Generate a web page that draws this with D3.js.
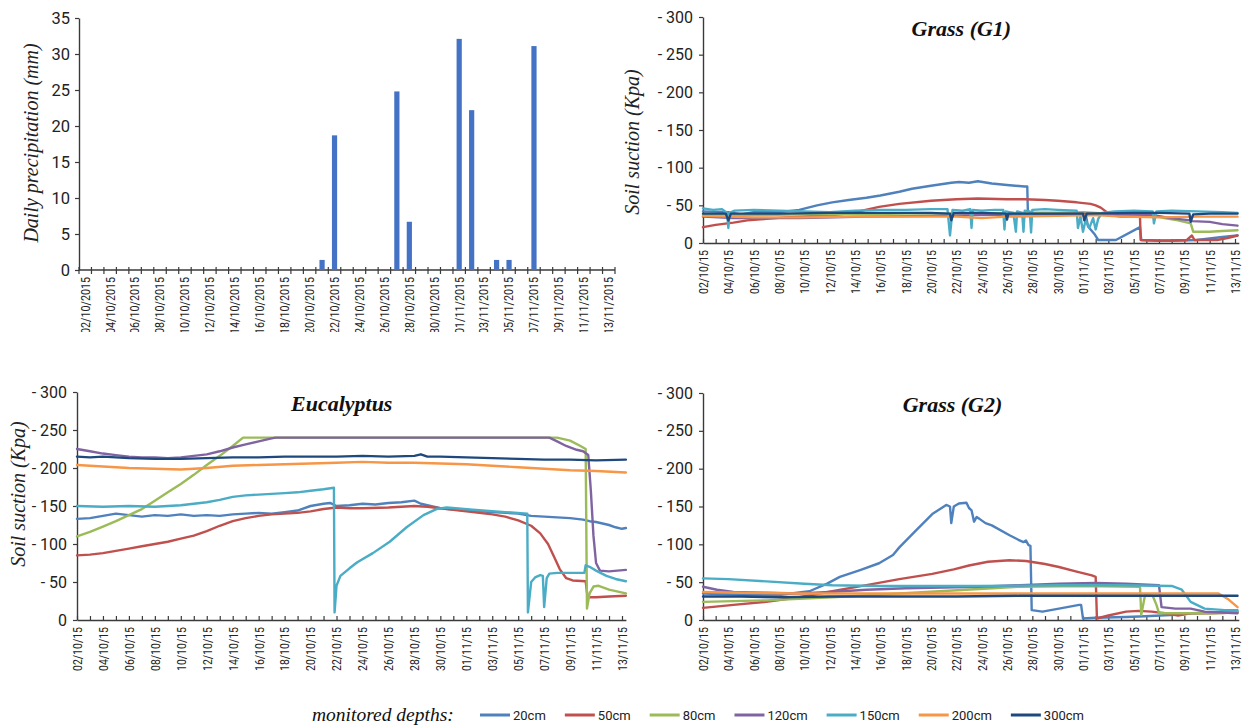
<!DOCTYPE html>
<html><head><meta charset="utf-8">
<script src="https://cdn.jsdelivr.net/npm/d3@7"></script>
<style>
body{margin:0;background:#fff;}
svg{display:block;}
</style></head><body>
<svg id="c" width="1243" height="727"></svg>
<script>
// ---------------- DATA ----------------
const precipDays = ["02/10/2015","03/10/2015","04/10/2015","05/10/2015","06/10/2015","07/10/2015","08/10/2015","09/10/2015","10/10/2015","11/10/2015","12/10/2015","13/10/2015","14/10/2015","15/10/2015","16/10/2015","17/10/2015","18/10/2015","19/10/2015","20/10/2015","21/10/2015","22/10/2015","23/10/2015","24/10/2015","25/10/2015","26/10/2015","27/10/2015","28/10/2015","29/10/2015","30/10/2015","31/10/2015","01/11/2015","02/11/2015","03/11/2015","04/11/2015","05/11/2015","06/11/2015","07/11/2015","08/11/2015","09/11/2015","10/11/2015","11/11/2015","12/11/2015","13/11/2015"];
const precipValues = [0,0,0,0,0,0,0,0,0,0,0,0,0,0,0,0,0,0,0,1.4,18.7,0,0,0,0,24.8,6.7,0,0,0,32.1,22.2,0,1.4,1.4,0,31.1,0,0,0,0,0,0];
const precipTicks = [0,5,10,15,20,25,30,35];

const lineTickLabels = ["02/10/15","04/10/15","06/10/15","08/10/15","10/10/15","12/10/15","14/10/15","16/10/15","18/10/15","20/10/15","22/10/15","24/10/15","26/10/15","28/10/15","30/10/15","01/11/15","03/11/15","05/11/15","07/11/15","09/11/15","11/11/15","13/11/15"];
const suctionTicks = [0,50,100,150,200,250,300];

const depths = ["20cm","50cm","80cm","120cm","150cm","200cm","300cm"];
const depthColors = ["#4F81BD","#C0504D","#9BBB59","#8064A2","#4BACC6","#F79646","#1F497D"];

// Eucalyptus  [day since 02/10, suction kPa]
const euc20 = [[0,133],[1,134],[2,137],[3,140],[4,138],[5,136],[6,138],[7,137],[8,139],[9,137],[10,138],[11,137],[12,139],[13,140],[14,141],[15,140],[16,142],[17,144],[18,150],[19,153],[19.5,154],[20,150],[21,151],[22,153],[23,152],[24,154],[25,155],[26,157],[26.5,153],[27,151],[28,147],[30,144],[32,142],[34,140],[35,137],[36,136],[37,135],[38,134],[39,132],[39.5,130],[40,129],[41,125],[41.5,122],[42,120],[42.3,121]];
const euc50 = [[0,85],[1,86],[2,88],[3,91],[4,94],[5,97],[6,100],[7,103],[8,107],[9,111],[10,117],[11,124],[12,130],[13,134],[14,137],[15,139],[16,140],[17,141],[18,143],[19,146],[20,148],[21,147],[22,147],[24,148],[26,150],[27,149],[28,147],[30,143],[32,139],[33,136],[34,131],[35,124],[35.7,114],[36.3,100],[36.8,82],[37.2,67],[37.7,55],[38.2,52],[39.2,51],[39.35,30],[40,30],[41,31],[42.3,32]];
const euc80 = [[0,110],[1,116],[2,123],[3,130],[4,138],[5,146],[6,157],[7,168],[8,179],[9,191],[10,204],[11,216],[12,229],[12.8,240],[37,240],[38,236],[38.8,229],[39.2,225],[39.3,15],[39.5,35],[39.8,44],[40.2,45],[41,40],[42.3,35]];
const euc120 = [[0,225],[1,222],[2,219],[3,217],[4,215],[5,214],[6,214],[7,213],[8,214],[9,216],[10,218],[11,222],[12,227],[13,231],[14,235],[15,239],[15.3,240],[36.4,240],[37,235],[37.7,229],[38.5,224],[39,222],[39.4,217],[39.6,170],[39.8,111],[40,75],[40.3,65],[41,64],[42.3,66]];
const euc150 = [[0,150],[2,149],[4,150],[6,149],[7,150],[8,151],[9,153],[10,155],[11,158],[12,162],[13,164],[14,165],[15,166],[16,167],[17,168],[18,170],[19,172],[19.8,174],[19.85,10],[20,45],[20.3,58],[21,68],[21.6,76],[22.8,88],[24.1,103],[25.4,122],[26.7,138],[27.7,146],[28.5,148],[30.5,145],[33,142],[34.7,140],[34.75,10],[35,50],[35.3,56],[35.7,59],[35.9,58],[36,17],[36.2,55],[36.4,61],[37,62],[39.1,62],[39.2,72],[39.5,70],[40,65],[40.8,58],[41.5,54],[42.3,51]];
const euc200 = [[0,204],[2,202],[4,200],[6,199],[8,198],[10,200],[12,203],[14,204],[16,205],[18,206],[20,207],[22,208],[24,207],[26,207],[28,206],[30,205],[32,203],[34,201],[36,199],[38,197],[40,196],[42.3,194]];
const euc300 = [[0,215],[1,214],[2,215],[4,213],[6,212],[8,212],[10,213],[12,214],[14,214],[16,215],[18,215],[20,215],[22,216],[24,215],[26,216],[26.5,218],[27,215],[28,215],[30,214],[32,213],[34,212],[36,211],[38,211],[40,210],[42.3,211]];

// Grass G1
const g1_20 = [[0,42],[2,41],[3,38],[4,41],[6,41],[7.6,44],[9,50],[10.2,54],[11.5,57],[12.9,60],[14,63],[15.5,68],[16.5,72],[18,76],[19.6,80],[20.2,81],[21,80],[21.7,82],[22.8,79],[24,77],[25.4,75],[25.6,75],[25.65,40],[27,40],[29,40],[30.2,39],[30.4,22],[30.9,12],[31.2,4],[32.6,4],[34.5,21],[34.6,4],[37,3],[39,4],[40,6],[41,8],[42.2,10]];
const g1_50 = [[0,21],[1,24],[2.4,27],[3.5,30],[5,32],[6.5,34],[7.6,35],[10.2,37],[11.5,39],[12.3,42],[13.1,45],[13.9,48],[15.5,52],[18,56],[20,58],[21.7,59],[24,58],[25.4,58],[27,57],[28,56],[29.5,54],[30.6,52],[31,50],[31.4,47],[31.8,42],[32.2,37],[33,35],[34.5,35],[34.55,4],[36,3],[38.2,4],[38.6,10],[38.8,4],[40.6,4],[41.5,7],[42.2,10]];
const g1_80 = [[0,38],[4,37],[8,38],[12,38],[16,39],[20,39],[24,40],[28,40],[30,41],[32,39],[34,38],[35.5,37],[36.4,33],[37.5,30],[38.5,26],[38.7,15],[40,15],[41,16],[42.2,17]];
const g1_120 = [[0,35],[2.4,33],[7.6,33],[12.9,35],[18,36],[21.7,37],[26,38],[30,39],[33,38],[35.6,37],[36.9,33],[38.5,30],[38.6,29],[40,28],[41,25],[42.2,23]];
const g1_150 = [[0,46],[0.8,44],[1.5,45],[1.9,40],[2,20],[2.1,40],[2.5,43],[4,44],[6,43],[8,42],[10,41],[12,43],[14,44],[16,44],[18,45],[19.3,45],[19.5,10],[19.7,44],[20.5,43],[21.1,45],[21.2,20],[21.3,44],[22,43],[23,44],[23.7,44],[23.8,18],[23.9,42],[24.5,40],[24.7,15],[24.8,42],[25.2,40],[25.3,15],[25.4,43],[25.8,42],[25.9,14],[26,44],[27,45],[28,44],[29.5,43],[29.6,20],[29.8,35],[30,15],[30.2,30],[30.5,20],[30.8,33],[31,18],[31.2,32],[31.5,40],[32.5,42],[34,43],[35.5,42],[35.6,26],[35.8,42],[37,43],[39,42],[41,41],[42.2,40]];
const g1_200 = [[0,36],[4,34],[8,34],[12,35],[16,35],[20,35],[22,33],[24,35],[28,36],[31,37],[33,35],[36,34],[39,35],[42.2,35]];
const g1_300 = [[0,39],[1.8,39],[2,30],[2.2,39],[6,39],[10,40],[14,40],[18,40],[19.5,39],[19.6,30],[19.8,40],[22,40],[23.9,39],[24,31],[24.1,39],[26,39],[28,39],[30,39],[30.1,30],[30.3,39],[34,40],[36,40],[38.4,39],[38.5,28],[38.7,38],[40,39],[42.2,39]];

// Grass G2
const g2_20 = [[0,35],[2,34],[4,33],[6,33],[8.4,38],[9.8,48],[10.8,57],[12.4,66],[13.9,75],[15,86],[15.5,96],[16.8,118],[18.1,140],[19.2,152],[19.5,150],[19.6,128],[19.8,150],[20.2,154],[20.8,155],[21,148],[21.2,145],[21.4,130],[21.6,136],[21.8,134],[22.3,128],[22.8,125],[24.2,112],[24.9,106],[25.3,103],[25.5,105],[25.7,99],[25.85,98],[25.95,13],[26.8,11],[28.1,15],[29.7,20],[29.85,20],[30,2],[31,3],[33.4,4],[34.9,5],[37.3,7],[38.6,9],[42.2,11]];
const g2_50 = [[0,16],[2.4,20],[5,24],[7.6,30],[10.2,38],[12.9,46],[15.5,54],[18.1,61],[19.8,67],[21,72],[22.5,77],[24.2,79],[25.5,78],[27,74],[28.1,70],[29.5,64],[30.7,59],[31,57],[31.1,2],[32,6],[33.4,11],[34.4,12],[35.4,11],[36.5,9],[37.5,6],[38.6,9],[40,9],[42.2,10]];
const g2_80 = [[0,24],[5,26],[10.2,30],[15.5,35],[21.8,41],[25,44],[30,45],[34.5,44],[34.6,7],[34.9,33],[35.5,32],[35.8,20],[36,9],[38,9],[40,9],[42.2,10]];
const g2_120 = [[0,44],[1.1,40],[2.4,37],[5,36],[7.6,35],[10,37],[12.9,40],[16,42],[21.8,44],[25,46],[28.1,48],[31,49],[33.4,48],[36,46],[36.2,17],[37.3,15],[38.5,15],[39.6,11],[42.2,9]];
const g2_150 = [[0,55],[2,54],[5,51],[8,48],[10.2,46],[14,45],[21.8,45],[28,46],[33,46],[37,45],[37.8,40],[38.5,24],[39.6,15],[41.2,13],[42.2,13]];
const g2_200 = [[0,37],[3,36],[7.6,35],[15,35],[25,35],[35,35],[40.7,35],[41.5,27],[42.2,17]];
const g2_300 = [[0,31],[3,31],[6,30],[10,31],[15,31],[20,31],[25,32],[30,32],[35,32],[40,32],[42.2,32]];

// ---------------- DRAWING ----------------
const svg = d3.select("#c");
const AX = "#3a3a3a";
const TICKFONT = "'Liberation Sans Narrow','Roboto','Liberation Sans',sans-serif";
const SERIF = "'Liberation Serif','DejaVu Serif',serif";

function styleAxis(g){
  g.selectAll("path.domain").attr("stroke",AX).attr("stroke-width",1.4);
  g.selectAll(".tick line").attr("stroke",AX).attr("stroke-width",1.2);
  g.selectAll(".tick text").attr("fill","#222").style("font-family",TICKFONT);
}

// Precipitation panel
(function(){
  const L=79,R=615,T=18,B=270;
  const x = d3.scaleBand().domain(precipDays).range([L,R]);
  const y = d3.scaleLinear().domain([0,35]).range([B,T]);
  const bw = x.bandwidth();
  svg.append("clipPath").attr("id","pclip").append("rect").attr("x",0).attr("y",0).attr("width",640).attr("height",332);
  const g = svg.append("g");
  const ya = g.append("g").attr("transform",`translate(${L},0)`)
    .call(d3.axisLeft(y).tickValues(precipTicks).tickSizeInner(4).tickSizeOuter(0).tickPadding(5));
  styleAxis(ya);
  ya.selectAll(".tick text").style("font-size","16.5px");
  g.append("line").attr("x1",L).attr("x2",R).attr("y1",B).attr("y2",B).attr("stroke",AX).attr("stroke-width",1.4);
  const bounds = precipDays.map(d=>x(d)).concat([x(precipDays[precipDays.length-1])+bw]);
  g.selectAll("line.bt").data(bounds).enter().append("line")
    .attr("x1",d=>d).attr("x2",d=>d).attr("y1",B-3).attr("y2",B+4).attr("stroke",AX).attr("stroke-width",1.2);
  const lg = g.append("g").attr("clip-path","url(#pclip)");
  lg.selectAll("text").data(precipDays.filter((d,i)=>i%2===0)).enter().append("text")
    .attr("transform",d=>`translate(${x(d)+bw/2},${B+7}) rotate(-90)`)
    .attr("text-anchor","end").attr("dy","0.35em")
    .attr("textLength",57).attr("lengthAdjust","spacingAndGlyphs")
    .style("font-family",TICKFONT).style("font-size","12.5px").attr("fill","#222")
    .text(d=>d);
  g.selectAll("rect.bar").data(precipDays.map((d,i)=>({d,v:precipValues[i]})).filter(o=>o.v>0)).enter().append("rect")
    .attr("x",o=>x(o.d)+bw/2-2.6).attr("width",5.2)
    .attr("y",o=>y(o.v)).attr("height",o=>y(0)-y(o.v))
    .attr("fill","#4472C4");
  g.append("text").attr("transform",`translate(38,143) rotate(-90)`).attr("text-anchor","middle")
    .style("font-family",SERIF).style("font-style","italic").style("font-size","20px").attr("fill","#222")
    .text("Daily precipitation (mm)");
})();

function linePanel(cfg, series, title, ylabel){
  const dayW = (cfg.x1-cfg.x0)/42;
  const x = d3.scaleLinear().domain([0,42.3]).range([cfg.x0, cfg.x1+0.3*dayW]);
  const y = d3.scaleLinear().domain([0,300]).range([cfg.bottom, cfg.top]);
  const g = svg.append("g");
  const ya = g.append("g").attr("transform",`translate(${cfg.x0},0)`)
    .call(d3.axisLeft(y).tickValues(suctionTicks).tickFormat(d=>d===0?"0":"- "+d).tickSizeInner(4).tickSizeOuter(0).tickPadding(6));
  styleAxis(ya);
  ya.selectAll(".tick text").style("font-size","16px");
  const xa = g.append("g").attr("transform",`translate(0,${cfg.bottom})`)
    .call(d3.axisBottom(x).tickValues(d3.range(0,43)).tickSizeInner(-4).tickSizeOuter(0)
      .tickFormat(d=> d%2===0 ? lineTickLabels[d/2] : ""));
  styleAxis(xa);
  xa.selectAll(".tick text").filter(function(){return this.textContent!=="";})
    .attr("transform","rotate(-90)").attr("text-anchor","end")
    .attr("x",-7).attr("y",0).attr("dy","0.35em").style("font-size","12.5px")
    .attr("textLength",44).attr("lengthAdjust","spacingAndGlyphs");
  const line = d3.line().x(d=>x(d[0])).y(d=>y(d[1]));
  series.forEach((s,i)=>{
    g.append("path").attr("d",line(s)).attr("fill","none")
      .attr("stroke",depthColors[i]).attr("stroke-width",2.4)
      .attr("stroke-linejoin","round").attr("stroke-linecap","round");
  });
  g.append("text").attr("x",x(cfg.titleT)).attr("y",cfg.top+19).attr("text-anchor","middle")
    .style("font-family",SERIF).style("font-style","italic").style("font-weight","bold").style("font-size","22px")
    .attr("fill","#111").text(title);
  if(ylabel){
    g.append("text").attr("transform",`translate(${cfg.ylx},${cfg.yly}) rotate(-90)`).attr("text-anchor","middle")
      .style("font-family",SERIF).style("font-style","italic").style("font-size","20px").attr("fill","#222")
      .text(ylabel);
  }
}

linePanel({x0:703,x1:1235,top:17,bottom:243,titleT:20.4,ylx:639,yly:142},
  [g1_20,g1_50,g1_80,g1_120,g1_150,g1_200,g1_300],"Grass (G1)","Soil suction (Kpa)");
linePanel({x0:77,x1:622,top:392,bottom:620,titleT:20.4,ylx:25,yly:494},
  [euc20,euc50,euc80,euc120,euc150,euc200,euc300],"Eucalyptus","Soil suction (Kpa)");
linePanel({x0:703,x1:1235,top:393,bottom:620,titleT:19.7},
  [g2_20,g2_50,g2_80,g2_120,g2_150,g2_200,g2_300],"Grass (G2)",null);

// Legend
(function(){
  const g = svg.append("g");
  const yc = 715;
  g.append("text").attr("x",312).attr("y",yc+6)
    .style("font-family",SERIF).style("font-style","italic").style("font-size","19.5px").attr("fill","#111")
    .text("monitored depths:");
  let xp = 480;
  depths.forEach((d,i)=>{
    g.append("line").attr("x1",xp).attr("x2",xp+30).attr("y1",yc).attr("y2",yc)
      .attr("stroke",depthColors[i]).attr("stroke-width",3);
    const t = g.append("text").attr("x",xp+33).attr("y",yc+5)
      .style("font-family",TICKFONT).style("font-size","13px").attr("fill","#222").text(d);
    xp += 33 + t.node().getComputedTextLength() + 19;
  });
})();
</script>
</body></html>
